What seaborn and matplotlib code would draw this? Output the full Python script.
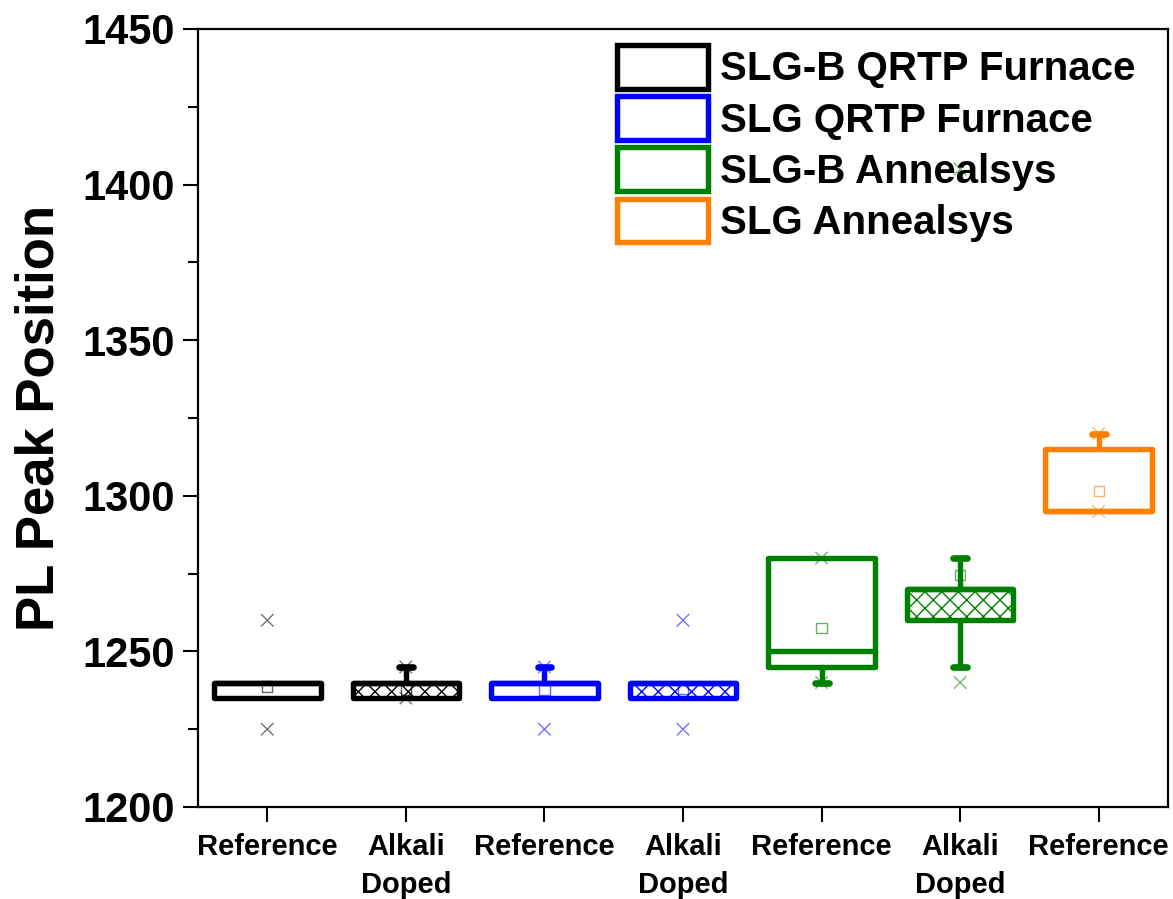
import numpy as np
import pandas as pd
import matplotlib
matplotlib.use("Agg")
import matplotlib.pyplot as plt
from matplotlib.patches import Patch
import seaborn as sns

# ---- data -------------------------------------------------------------
positions = [1, 2, 3, 4, 5, 6, 7]
tick_labels = ["Reference", "Alkali\nDoped", "Reference", "Alkali\nDoped",
               "Reference", "Alkali\nDoped", "Reference"]
box_group = [0, 0, 1, 1, 2, 2, 3]
hatched = [False, True, False, True, False, True, False]

group_names = ["SLG-B QRTP Furnace", "SLG QRTP Furnace",
               "SLG-B Annealsys", "SLG Annealsys"]
group_colors = ["#000000", "#0000FF", "#008000", "#FF8000"]

q1 = [1235, 1235, 1235, 1235, 1245, 1260, 1295]
median = [1240, 1240, 1240, 1240, 1250, 1270, 1295]
q3 = [1240, 1240, 1240, 1240, 1280, 1270, 1315]
whisker_lo = [1235, 1235, 1235, 1235, 1240, 1245, 1295]
whisker_hi = [1240, 1245, 1245, 1240, 1280, 1280, 1320]
mean = [1238.7, 1237.8, 1237.6, 1238.0, 1257.6, 1274.5, 1301.5]
minimum = [1225, 1235, 1225, 1225, 1240, 1240, 1295]
maximum = [1260, 1245, 1245, 1260, 1280, 1405, 1320]

# ---- style ------------------------------------------------------------
sns.set_style("ticks")
plt.rcParams["font.family"] = ["Liberation Sans", "DejaVu Sans"]
plt.rcParams["font.weight"] = "bold"
plt.rcParams["hatch.linewidth"] = 1.0
for key in ["text.color", "axes.labelcolor", "xtick.color", "ytick.color",
            "axes.edgecolor"]:
    plt.rcParams[key] = "black"

fig = plt.figure(figsize=(11.73, 8.99), dpi=100)
ax = fig.add_axes([198 / 1173, 92 / 899, 970 / 1173, 778 / 899])

box_colors = [group_colors[g] for g in box_group]

stats = []
for i in range(len(positions)):
    stats.append(dict(q1=q1[i], med=median[i], q3=q3[i],
                      whislo=whisker_lo[i], whishi=whisker_hi[i],
                      mean=mean[i], fliers=[], label=tick_labels[i]))

lw = 3.9
art = ax.bxp(stats, positions=positions, widths=0.77, capwidths=0.1,
             patch_artist=True, showmeans=False, showfliers=False,
             boxprops=dict(linewidth=lw, joinstyle="round"),
             whiskerprops=dict(linewidth=lw),
             capprops=dict(linewidth=4.8, solid_capstyle="round"),
             medianprops=dict(linewidth=lw))

for i, c in enumerate(box_colors):
    box = art["boxes"][i]
    box.set_facecolor("white")
    box.set_edgecolor(c)
    if hatched[i]:
        box.set_hatch("xx")
        if hasattr(box, "set_hatchcolor"):
            box.set_hatchcolor(c)
    for ln in art["whiskers"][2 * i:2 * i + 2] + art["caps"][2 * i:2 * i + 2]:
        ln.set_color(c)
    art["medians"][i].set_color(c)
    # a whisker that ends on the box edge gets no cap
    if whisker_lo[i] == q1[i]:
        art["caps"][2 * i].set_visible(False)
        art["whiskers"][2 * i].set_visible(False)
    if whisker_hi[i] == q3[i]:
        art["caps"][2 * i + 1].set_visible(False)
        art["whiskers"][2 * i + 1].set_visible(False)

# mean (hollow squares) and min/max (crosses)
df_mean = pd.DataFrame({"pos": positions, "value": mean,
                        "box": [str(p) for p in positions]})
df_ext = pd.DataFrame({"pos": positions + positions,
                       "value": minimum + maximum,
                       "box": [str(p) for p in positions] * 2})
pal = {str(p): c for p, c in zip(positions, box_colors)}

sns.scatterplot(data=df_mean, x="pos", y="value", hue="box", palette=pal,
                marker="s", s=55, linewidth=1.0, alpha=0.6, legend=False,
                ax=ax, zorder=5)
sq = ax.collections[-1]
sq.set_edgecolors([pal[str(p)] for p in positions])
sq.set_facecolors("none")

sns.scatterplot(data=df_ext, x="pos", y="value", hue="box", palette=pal,
                marker="x", s=80, linewidth=1.0, alpha=0.55, legend=False,
                ax=ax, zorder=5)

# ---- axes -------------------------------------------------------------
ax.set_xlim(0.5, 7.5)
ax.set_ylim(1200, 1450)
ax.set_yticks(np.arange(1200, 1451, 50))
ax.set_yticks(np.arange(1225, 1450, 50), minor=True)
ax.set_xticks(positions)
ax.set_xticklabels(tick_labels, fontsize=21, fontweight="bold",
                   linespacing=1.45)
ax.set_xlabel("")
for lab in ax.get_yticklabels():
    lab.set_fontsize(30)
    lab.set_fontweight("bold")

ax.tick_params(axis="x", direction="out", length=11, width=1.5, pad=8,
               bottom=True, top=False)
ax.tick_params(axis="y", which="major", direction="out", length=11,
               width=1.5, pad=6, left=True, right=False)
ax.tick_params(axis="y", which="minor", direction="out", length=7,
               width=1.5, left=True, right=False)
for s in ax.spines.values():
    s.set_visible(True)
    s.set_linewidth(1.6)
    s.set_color("black")

ax.set_ylabel("PL Peak Position", fontsize=38, fontweight="bold")
ax.yaxis.set_label_coords(-0.138, 0.5)

handles = [Patch(facecolor="white", edgecolor=c, linewidth=3.9,
                 joinstyle="round") for c in group_colors]
ax.legend(handles, group_names, loc="upper left",
          bbox_to_anchor=(609 / 1173, 1 - 37 / 899),
          bbox_transform=fig.transFigure, frameon=False,
          prop=dict(size=29, weight="bold"), handlelength=2.26,
          handleheight=1.3, handletextpad=0.3, labelspacing=0.18,
          borderpad=0.2, borderaxespad=0)

fig.savefig("out.png", dpi=100, facecolor="white")
